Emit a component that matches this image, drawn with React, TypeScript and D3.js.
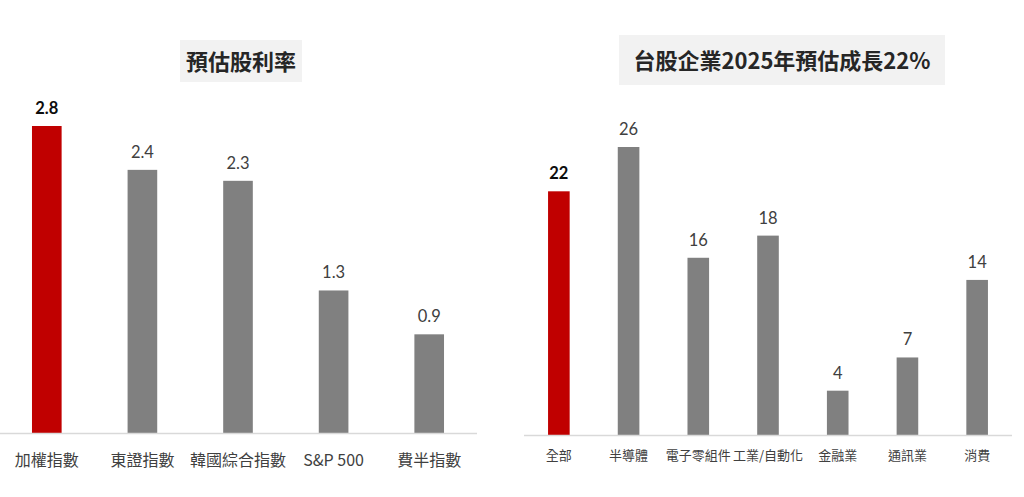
import React from "react";
import * as d3 from "d3";

const leftTitle = "預估股利率";
const leftCategories = ["加權指數", "東證指數", "韓國綜合指數", "S&P 500", "費半指數"];
const leftValues = [2.8, 2.4, 2.3, 1.3, 0.9];
const leftLabels = ["2.8", "2.4", "2.3", "1.3", "0.9"];

const rightTitle = "台股企業2025年預估成長22%";
const rightCategories = ["全部", "半導體", "電子零組件", "工業/自動化", "金融業", "通訊業", "消費"];
const rightValues = [22, 26, 16, 18, 4, 7, 14];
const rightLabels = ["22", "26", "16", "18", "4", "7", "14"];

const CJK = "'Noto Sans CJK TC', 'Noto Sans', sans-serif";
const NUM = "Lato, 'Noto Sans', sans-serif";

type PanelProps = {
  title: string;
  categories: string[];
  values: number[];
  labels: string[];
  x0: number;
  x1: number;
  baseline: number;
  maxVal: number;
  topAtMax: number;
  padding: number;
  titleBox: [number, number, number, number];
  titleY: number;
  catFont: number;
  catY: number;
};

function Panel(p: PanelProps) {
  const x = d3.scaleBand<string>().domain(p.categories).range([p.x0, p.x1]).paddingInner(p.padding).paddingOuter(p.padding / 2);
  const y = d3.scaleLinear().domain([0, p.maxVal]).range([p.baseline, p.topAtMax]);
  const [bx, by, bw, bh] = p.titleBox;
  return (
    <g>
      <rect x={bx} y={by} width={bw} height={bh} fill="#f2f2f2" />
      <text x={bx + bw / 2} y={p.titleY} textAnchor="middle" fontFamily={CJK} fontSize={22} fontWeight={700} fill="#262626">
        {p.title}
      </text>
      {p.categories.map((c, i) => {
        const v = p.values[i];
        const bxv = x(c) as number;
        const first = i === 0;
        return (
          <g key={c}>
            <rect x={bxv} y={y(v)} width={x.bandwidth()} height={p.baseline - y(v)} fill={first ? "#c00000" : "#808080"} />
            <text x={bxv + x.bandwidth() / 2} y={y(v) - 12} textAnchor="middle" fontFamily={NUM} fontSize={16.5} fontWeight={first ? 700 : 400} fill={first ? "#0d0d0d" : "#404040"}>
              {p.labels[i]}
            </text>
            <text x={bxv + x.bandwidth() / 2} y={p.catY} textAnchor="middle" fontFamily={CJK} fontSize={p.catFont} fill="#404040">
              {c}
            </text>
          </g>
        );
      })}
      <line x1={p.x0} x2={p.x1} y1={p.baseline + 0.5} y2={p.baseline + 0.5} stroke="#d9d9d9" strokeWidth={1.5} />
    </g>
  );
}

export default function App() {
  return (
    <svg width={1024} height={497} style={{ position: "absolute", left: 0, top: 0, background: "#fff" }}>
      <rect width={1024} height={497} fill="#fff" />
      <Panel
        title={leftTitle}
        categories={leftCategories}
        values={leftValues}
        labels={leftLabels}
        x0={-1}
        x1={477}
        baseline={433}
        maxVal={2.8}
        topAtMax={126}
        padding={0.69}
        titleBox={[180, 40, 122, 42]}
        titleY={70}
        catFont={16}
        catY={466}
      />
      <Panel
        title={rightTitle}
        categories={rightCategories}
        values={rightValues}
        labels={rightLabels}
        x0={524}
        x1={1012}
        baseline={435}
        maxVal={26}
        topAtMax={147}
        padding={0.69}
        titleBox={[619, 35, 326, 50]}
        titleY={69}
        catFont={13}
        catY={460}
      />
    </svg>
  );
}
